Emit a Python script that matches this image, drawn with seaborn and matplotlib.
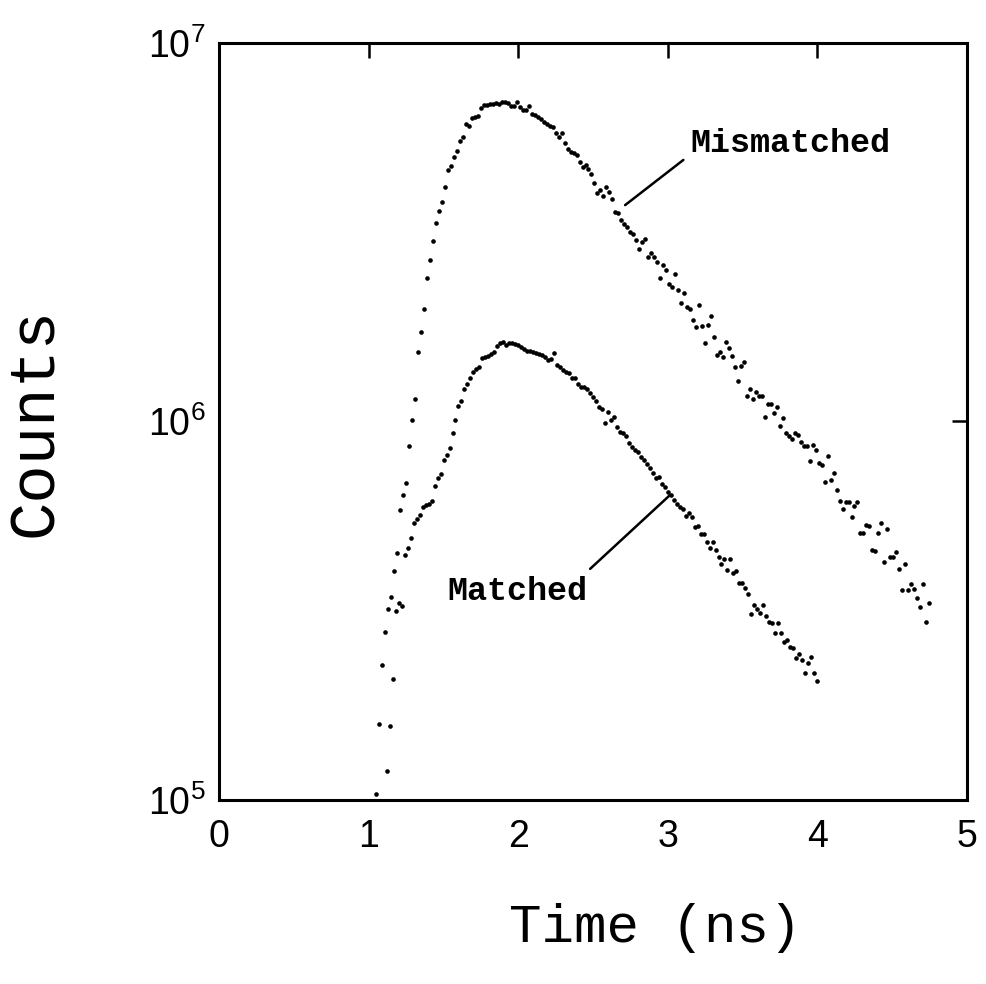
import numpy as np
import pandas as pd
import matplotlib
matplotlib.use("Agg")
import matplotlib.pyplot as plt
import seaborn as sns
from matplotlib.ticker import FixedLocator, FixedFormatter, NullLocator

# Time-correlated photon counting histograms, 20 ps channels
CHANNEL_WIDTH_NS = 0.02
MISMATCHED_START_NS = 1.05
MATCHED_START_NS = 1.12

MISMATCHED_COUNTS = [
    1.04e5, 1.59e5, 2.27e5, 2.78e5, 3.20e5, 3.44e5, 4.03e5, 4.49e5, 5.84e5, 6.39e5,
    6.88e5, 8.62e5, 1.01e6, 1.15e6, 1.53e6, 1.72e6, 1.98e6, 2.39e6, 2.67e6, 3.00e6,
    3.35e6, 3.60e6, 3.80e6, 4.16e6, 4.62e6, 4.73e6, 5.00e6, 5.19e6, 5.51e6, 5.65e6,
    6.11e6, 6.04e6, 6.34e6, 6.38e6, 6.41e6, 6.73e6, 6.86e6, 6.86e6, 6.90e6, 6.92e6,
    6.94e6, 6.90e6, 6.98e6, 6.98e6, 6.94e6, 6.82e6, 6.82e6, 6.98e6, 6.77e6, 6.65e6,
    6.65e6, 6.82e6,
    6.49e6, 6.45e6, 6.38e6, 6.30e6, 6.19e6, 6.11e6, 6.04e6, 6.00e6, 5.79e6, 5.65e6,
    5.79e6, 5.44e6, 5.25e6, 5.15e6, 5.12e6, 5.06e6, 4.85e6, 4.70e6, 4.76e6, 4.65e6,
    4.51e6, 4.27e6, 4.01e6, 4.09e6, 3.94e6, 4.16e6, 4.04e6, 3.87e6,
    3.58e6, 3.56e6, 3.41e6, 3.33e6, 3.27e6, 3.17e6, 3.13e6, 3.02e6, 2.86e6, 2.98e6,
    3.04e6, 2.72e6, 2.79e6, 2.72e6, 2.64e6, 2.39e6, 2.59e6, 2.51e6, 2.31e6, 2.27e6,
    2.45e6, 2.23e6, 2.06e6, 2.18e6, 2.01e6, 1.98e6, 1.85e6, 1.78e6, 2.03e6, 1.79e6,
    1.61e6, 1.80e6, 1.90e6, 1.67e6, 1.50e6, 1.53e6, 1.48e6, 1.62e6, 1.56e6, 1.49e6,
    1.39e6, 1.28e6, 1.40e6, 1.44e6, 1.17e6, 1.22e6, 1.15e6, 1.20e6, 1.17e6, 1.17e6,
    1.03e6, 1.11e6, 1.11e6, 1.05e6, 1.09e6, 9.73e5, 1.02e6, 9.33e5, 9.16e5, 8.99e5,
    9.33e5, 9.21e5, 8.83e5, 8.62e5, 8.62e5, 7.86e5, 8.67e5, 8.41e5, 7.77e5, 7.67e5,
    6.92e5, 8.11e5, 7.01e5, 7.31e5, 6.59e5, 6.17e5, 5.87e5, 6.13e5, 6.13e5, 5.59e5,
    5.98e5, 6.13e5, 5.07e5, 5.07e5, 5.33e5, 5.29e5, 4.58e5, 4.55e5, 5.07e5, 5.39e5,
    4.25e5, 5.20e5, 4.38e5, 4.38e5, 4.52e5, 4.08e5, 3.59e5, 4.20e5, 3.59e5, 3.72e5,
    3.61e5, 3.42e5, 3.23e5, 3.72e5, 2.95e5, 3.31e5,
]

MATCHED_COUNTS = [
    1.19e5, 1.57e5, 2.09e5, 3.16e5, 3.31e5, 3.25e5, 4.44e5, 4.63e5, 4.92e5, 5.39e5,
    5.52e5, 5.66e5, 5.94e5, 6.02e5, 6.05e5, 6.17e5, 6.75e5, 7.09e5, 7.27e5, 7.91e5,
    8.16e5, 8.51e5, 9.33e5, 1.01e6, 1.10e6, 1.13e6, 1.22e6, 1.26e6, 1.30e6, 1.35e6,
    1.38e6, 1.39e6, 1.47e6, 1.48e6, 1.49e6, 1.51e6, 1.53e6, 1.58e6, 1.61e6, 1.62e6,
    1.59e6, 1.61e6, 1.61e6, 1.60e6, 1.59e6, 1.57e6, 1.55e6, 1.54e6, 1.54e6, 1.53e6,
    1.52e6, 1.51e6, 1.50e6, 1.48e6, 1.45e6, 1.46e6, 1.52e6, 1.41e6, 1.39e6, 1.37e6,
    1.35e6, 1.34e6, 1.30e6, 1.30e6, 1.26e6, 1.23e6, 1.23e6, 1.22e6, 1.19e6, 1.16e6,
    1.13e6, 1.09e6, 1.08e6, 9.91e5, 1.06e6, 1.01e6, 1.03e6, 9.67e5, 9.38e5, 9.33e5,
    9.16e5, 8.77e5, 8.56e5, 8.41e5, 8.31e5, 8.06e5, 7.91e5, 7.72e5, 7.54e5, 7.31e5,
    7.09e5, 7.13e5, 6.84e5, 6.71e5, 6.51e5, 6.39e5, 6.20e5, 6.05e5, 5.94e5, 5.87e5,
    5.63e5, 5.73e5, 5.59e5, 5.26e5, 5.29e5, 5.04e5, 5.04e5, 4.80e5, 4.63e5, 4.80e5,
    4.58e5, 4.38e5, 4.20e5, 4.33e5, 4.05e5, 4.33e5, 3.98e5, 4.03e5, 3.74e5, 3.74e5,
    3.63e5, 3.50e5, 3.10e5, 3.27e5, 3.20e5, 3.12e5, 3.27e5, 3.06e5, 2.95e5, 2.93e5,
    2.76e5, 2.93e5, 2.76e5, 2.61e5, 2.65e5, 2.54e5, 2.52e5, 2.37e5, 2.43e5, 2.34e5,
    2.16e5, 2.30e5, 2.39e5, 2.16e5, 2.06e5,
]

X_TICKS = [0, 1, 2, 3, 4, 5]
X_TICK_LABELS = ["0", "1", "2", "3", "4", "5"]
Y_TICKS = [1e5, 1e6, 1e7]
Y_TICK_LABELS = [r"$\mathregular{10^{5}}$", r"$\mathregular{10^{6}}$", r"$\mathregular{10^{7}}$"]

X_LABEL = "Time (ns)"
Y_LABEL = "Counts"


def channel_times(start, counts):
    return start + CHANNEL_WIDTH_NS * np.arange(len(counts))


df = pd.concat([
    pd.DataFrame({"time": channel_times(MISMATCHED_START_NS, MISMATCHED_COUNTS),
                  "counts": MISMATCHED_COUNTS, "load": "Mismatched"}),
    pd.DataFrame({"time": channel_times(MATCHED_START_NS, MATCHED_COUNTS),
                  "counts": MATCHED_COUNTS, "load": "Matched"}),
], ignore_index=True)

sns.set_theme(style="white")
plt.rcParams["font.family"] = ["Liberation Sans", "DejaVu Sans"]
plt.rcParams["mathtext.fontset"] = "custom"
plt.rcParams["mathtext.rm"] = "Liberation Sans"
plt.rcParams["mathtext.default"] = "regular"

fig = plt.figure(figsize=(9.86, 9.84), dpi=100)
ax = fig.add_axes([0.2225, 0.187, 0.7578, 0.7693])

sns.scatterplot(data=df, x="time", y="counts", ax=ax, color="black",
                s=11, linewidth=0, marker="o", legend=False)

ax.set_yscale("log")
ax.set_xlim(0, 5)
ax.set_ylim(1e5, 1e7)

ax.xaxis.set_major_locator(FixedLocator(X_TICKS))
ax.xaxis.set_major_formatter(FixedFormatter(X_TICK_LABELS))
ax.xaxis.set_minor_locator(NullLocator())
ax.yaxis.set_major_locator(FixedLocator(Y_TICKS))
ax.yaxis.set_major_formatter(FixedFormatter(Y_TICK_LABELS))
ax.yaxis.set_minor_locator(NullLocator())

for spine in ax.spines.values():
    spine.set_visible(True)
    spine.set_color("black")
    spine.set_linewidth(2.2)

ax.tick_params(axis="both", which="major", direction="in", length=11, width=1.8,
               top=True, right=True, colors="black", labelsize=27)
ax.tick_params(axis="x", pad=14)
ax.tick_params(axis="y", pad=10)

ax.set_xlabel(X_LABEL, va="center", family="Liberation Mono", fontsize=39, color="black")
ax.set_ylabel(Y_LABEL, va="center", family="Liberation Mono", fontsize=46, color="black")
ax.xaxis.set_label_coords(0.583, -0.169)
ax.yaxis.set_label_coords(-0.247, 0.5)

# Series labels with leader lines to the curves
note_font = dict(family="Liberation Mono", fontsize=24, fontweight="bold", color="black")
ax.plot([2.715, 3.105], [3.73e6, 4.91e6], color="black", lw=1.8)
ax.text(3.15, 5.44e6, "Mismatched", ha="left", va="center", **note_font)
ax.plot([2.481, 3.015], [4.08e5, 6.39e5], color="black", lw=1.8)
ax.text(1.995, 3.56e5, "Matched", ha="center", va="center", **note_font)

fig.savefig("out.png", dpi=100, facecolor="white")
